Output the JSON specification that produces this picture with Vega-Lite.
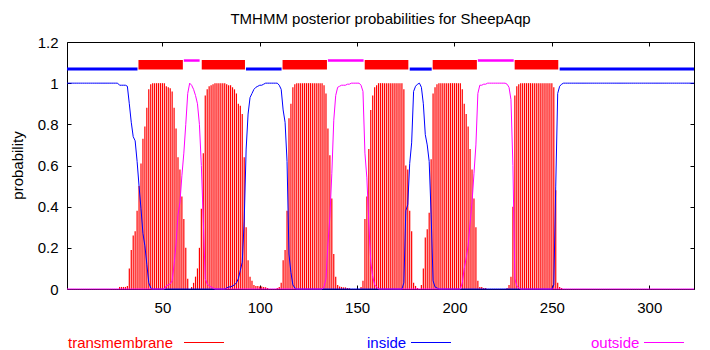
{
"$schema": "https://vega.github.io/schema/vega-lite/v6.json",
"width": 627,
"height": 247,
"autosize": {"type": "none"},
"padding": {"left": 67, "top": 42, "right": 16, "bottom": 61},
"background": "white",
"title": {"text": "TMHMM posterior probabilities for SheepAqp", "font": "Liberation Sans", "fontSize": 15, "fontWeight": "normal", "color": "black", "anchor": "middle", "frame": "group", "baseline": "alphabetic", "offset": -3.5},
"config": {"view": {"stroke": "black", "strokeWidth": 1}},
"datasets": {
"topo": [
{"state":"inside","start":1,"end":37.2},
{"state":"tm","start":37.7,"end":60.5},
{"state":"outside","start":61,"end":69.1},
{"state":"tm","start":70.2,"end":92.4},
{"state":"inside","start":92.9,"end":111.2},
{"state":"tm","start":111.7,"end":134.5},
{"state":"outside","start":135,"end":153.3},
{"state":"tm","start":153.9,"end":176.3},
{"state":"inside","start":177,"end":188.3},
{"state":"tm","start":188.8,"end":211.5},
{"state":"outside","start":212,"end":230.4},
{"state":"tm","start":230.9,"end":253.3},
{"state":"inside","start":254,"end":323}
],
"prob": [
{"pos":1,"tm":0,"inside":1,"outside":0},
{"pos":2,"tm":0,"inside":1,"outside":0},
{"pos":3,"tm":0,"inside":1,"outside":0},
{"pos":4,"tm":0,"inside":1,"outside":0},
{"pos":5,"tm":0,"inside":1,"outside":0},
{"pos":6,"tm":0,"inside":1,"outside":0},
{"pos":7,"tm":0,"inside":1,"outside":0},
{"pos":8,"tm":0,"inside":1,"outside":0},
{"pos":9,"tm":0,"inside":1,"outside":0},
{"pos":10,"tm":0,"inside":1,"outside":0},
{"pos":11,"tm":0,"inside":1,"outside":0},
{"pos":12,"tm":0,"inside":1,"outside":0},
{"pos":13,"tm":0,"inside":1,"outside":0},
{"pos":14,"tm":0,"inside":1,"outside":0},
{"pos":15,"tm":0,"inside":1,"outside":0},
{"pos":16,"tm":0,"inside":1,"outside":0},
{"pos":17,"tm":0,"inside":1,"outside":0},
{"pos":18,"tm":0,"inside":1,"outside":0},
{"pos":19,"tm":0,"inside":1,"outside":0},
{"pos":20,"tm":0,"inside":1,"outside":0},
{"pos":21,"tm":0,"inside":1,"outside":0},
{"pos":22,"tm":0,"inside":1,"outside":0},
{"pos":23,"tm":0,"inside":1,"outside":0},
{"pos":24,"tm":0,"inside":1,"outside":0},
{"pos":25,"tm":0,"inside":1,"outside":0},
{"pos":26,"tm":0,"inside":1,"outside":0},
{"pos":27,"tm":0,"inside":1,"outside":0},
{"pos":28,"tm":0.01,"inside":0.99,"outside":0},
{"pos":29,"tm":0.01,"inside":0.99,"outside":0},
{"pos":30,"tm":0.01,"inside":0.99,"outside":0},
{"pos":31,"tm":0.01,"inside":0.99,"outside":0},
{"pos":32,"tm":0.015,"inside":0.985,"outside":0},
{"pos":33,"tm":0.1,"inside":0.9,"outside":0},
{"pos":34,"tm":0.19,"inside":0.81,"outside":0},
{"pos":35,"tm":0.26,"inside":0.74,"outside":0},
{"pos":36,"tm":0.28,"inside":0.72,"outside":0},
{"pos":37,"tm":0.38,"inside":0.62,"outside":0},
{"pos":38,"tm":0.5,"inside":0.5,"outside":0},
{"pos":39,"tm":0.61,"inside":0.39,"outside":0},
{"pos":40,"tm":0.73,"inside":0.27,"outside":0},
{"pos":41,"tm":0.79,"inside":0.21,"outside":0},
{"pos":42,"tm":0.88,"inside":0.12,"outside":0},
{"pos":43,"tm":0.97,"inside":0.03,"outside":0},
{"pos":44,"tm":0.995,"inside":0.005,"outside":0},
{"pos":45,"tm":1,"inside":0,"outside":0},
{"pos":46,"tm":1,"inside":0,"outside":0},
{"pos":47,"tm":1,"inside":0,"outside":0},
{"pos":48,"tm":1,"inside":0,"outside":0},
{"pos":49,"tm":1,"inside":0,"outside":0},
{"pos":50,"tm":1,"inside":0,"outside":0},
{"pos":51,"tm":1,"inside":0,"outside":0},
{"pos":52,"tm":0.985,"inside":0,"outside":0.015},
{"pos":53,"tm":0.98,"inside":0,"outside":0.02},
{"pos":54,"tm":0.975,"inside":0,"outside":0.025},
{"pos":55,"tm":0.96,"inside":0,"outside":0.04},
{"pos":56,"tm":0.88,"inside":0,"outside":0.12},
{"pos":57,"tm":0.78,"inside":0,"outside":0.22},
{"pos":58,"tm":0.64,"inside":0,"outside":0.36},
{"pos":59,"tm":0.58,"inside":0,"outside":0.42},
{"pos":60,"tm":0.45,"inside":0,"outside":0.55},
{"pos":61,"tm":0.34,"inside":0,"outside":0.66},
{"pos":62,"tm":0.2,"inside":0,"outside":0.8},
{"pos":63,"tm":0.05,"inside":0,"outside":0.95},
{"pos":64,"tm":0,"inside":0,"outside":1},
{"pos":65,"tm":0.01,"inside":0,"outside":0.99},
{"pos":66,"tm":0.03,"inside":0,"outside":0.97},
{"pos":67,"tm":0.06,"inside":0,"outside":0.94},
{"pos":68,"tm":0.1,"inside":0,"outside":0.9},
{"pos":69,"tm":0.2,"inside":0,"outside":0.8},
{"pos":70,"tm":0.39,"inside":0,"outside":0.6},
{"pos":71,"tm":0.66,"inside":0,"outside":0.33},
{"pos":72,"tm":0.94,"inside":0,"outside":0.05},
{"pos":73,"tm":0.97,"inside":0,"outside":0.025},
{"pos":74,"tm":0.985,"inside":0,"outside":0.015},
{"pos":75,"tm":0.99,"inside":0,"outside":0.01},
{"pos":76,"tm":0.995,"inside":0,"outside":0.005},
{"pos":77,"tm":1,"inside":0,"outside":0},
{"pos":78,"tm":1,"inside":0,"outside":0},
{"pos":79,"tm":1,"inside":0,"outside":0},
{"pos":80,"tm":1,"inside":0,"outside":0},
{"pos":81,"tm":1,"inside":0,"outside":0},
{"pos":82,"tm":1,"inside":0,"outside":0},
{"pos":83,"tm":0.995,"inside":0.005,"outside":0},
{"pos":84,"tm":0.99,"inside":0.01,"outside":0},
{"pos":85,"tm":0.99,"inside":0.01,"outside":0},
{"pos":86,"tm":0.98,"inside":0.015,"outside":0},
{"pos":87,"tm":0.97,"inside":0.02,"outside":0},
{"pos":88,"tm":0.95,"inside":0.03,"outside":0},
{"pos":89,"tm":0.9,"inside":0.05,"outside":0},
{"pos":90,"tm":0.89,"inside":0.09,"outside":0},
{"pos":91,"tm":0.85,"inside":0.13,"outside":0},
{"pos":92,"tm":0.64,"inside":0.33,"outside":0},
{"pos":93,"tm":0.3,"inside":0.68,"outside":0},
{"pos":94,"tm":0.14,"inside":0.85,"outside":0},
{"pos":95,"tm":0.06,"inside":0.93,"outside":0},
{"pos":96,"tm":0.04,"inside":0.95,"outside":0},
{"pos":97,"tm":0.02,"inside":0.97,"outside":0},
{"pos":98,"tm":0.015,"inside":0.98,"outside":0},
{"pos":99,"tm":0.015,"inside":0.985,"outside":0},
{"pos":100,"tm":0.012,"inside":0.99,"outside":0},
{"pos":101,"tm":0.012,"inside":0.99,"outside":0},
{"pos":102,"tm":0.01,"inside":0.995,"outside":0},
{"pos":103,"tm":0.008,"inside":1,"outside":0},
{"pos":104,"tm":0.005,"inside":1,"outside":0},
{"pos":105,"tm":0,"inside":1,"outside":0},
{"pos":106,"tm":0,"inside":1,"outside":0},
{"pos":107,"tm":0,"inside":1,"outside":0},
{"pos":108,"tm":0,"inside":1,"outside":0},
{"pos":109,"tm":0.005,"inside":1,"outside":0},
{"pos":110,"tm":0.01,"inside":0.99,"outside":0},
{"pos":111,"tm":0.03,"inside":0.97,"outside":0},
{"pos":112,"tm":0.14,"inside":0.87,"outside":0},
{"pos":113,"tm":0.19,"inside":0.81,"outside":0},
{"pos":114,"tm":0.38,"inside":0.62,"outside":0},
{"pos":115,"tm":0.83,"inside":0.17,"outside":0},
{"pos":116,"tm":0.9,"inside":0.08,"outside":0},
{"pos":117,"tm":0.98,"inside":0.02,"outside":0},
{"pos":118,"tm":0.995,"inside":0.005,"outside":0},
{"pos":119,"tm":1,"inside":0,"outside":0},
{"pos":120,"tm":1,"inside":0,"outside":0},
{"pos":121,"tm":1,"inside":0,"outside":0},
{"pos":122,"tm":1,"inside":0,"outside":0},
{"pos":123,"tm":1,"inside":0,"outside":0},
{"pos":124,"tm":1,"inside":0,"outside":0},
{"pos":125,"tm":1,"inside":0,"outside":0},
{"pos":126,"tm":1,"inside":0,"outside":0},
{"pos":127,"tm":1,"inside":0,"outside":0},
{"pos":128,"tm":1,"inside":0,"outside":0},
{"pos":129,"tm":1,"inside":0,"outside":0},
{"pos":130,"tm":1,"inside":0,"outside":0},
{"pos":131,"tm":1,"inside":0,"outside":0},
{"pos":132,"tm":1,"inside":0,"outside":0},
{"pos":133,"tm":0.99,"inside":0,"outside":0.01},
{"pos":134,"tm":0.95,"inside":0,"outside":0.05},
{"pos":135,"tm":0.78,"inside":0,"outside":0.22},
{"pos":136,"tm":0.65,"inside":0,"outside":0.35},
{"pos":137,"tm":0.44,"inside":0,"outside":0.56},
{"pos":138,"tm":0.17,"inside":0,"outside":0.82},
{"pos":139,"tm":0.06,"inside":0,"outside":0.94},
{"pos":140,"tm":0.02,"inside":0,"outside":0.98},
{"pos":141,"tm":0.012,"inside":0,"outside":0.985},
{"pos":142,"tm":0.01,"inside":0,"outside":0.99},
{"pos":143,"tm":0.008,"inside":0,"outside":0.99},
{"pos":144,"tm":0.008,"inside":0,"outside":0.99},
{"pos":145,"tm":0.005,"inside":0,"outside":0.995},
{"pos":146,"tm":0.004,"inside":0,"outside":0.995},
{"pos":147,"tm":0,"inside":0,"outside":1},
{"pos":148,"tm":0,"inside":0,"outside":1},
{"pos":149,"tm":0,"inside":0,"outside":1},
{"pos":150,"tm":0,"inside":0,"outside":1},
{"pos":151,"tm":0,"inside":0,"outside":1},
{"pos":152,"tm":0.01,"inside":0,"outside":0.99},
{"pos":153,"tm":0.04,"inside":0,"outside":0.96},
{"pos":154,"tm":0.34,"inside":0,"outside":0.66},
{"pos":155,"tm":0.45,"inside":0,"outside":0.54},
{"pos":156,"tm":0.68,"inside":0,"outside":0.32},
{"pos":157,"tm":0.87,"inside":0,"outside":0.13},
{"pos":158,"tm":0.94,"inside":0,"outside":0.06},
{"pos":159,"tm":0.98,"inside":0,"outside":0.02},
{"pos":160,"tm":0.99,"inside":0,"outside":0.01},
{"pos":161,"tm":1,"inside":0,"outside":0},
{"pos":162,"tm":1,"inside":0,"outside":0},
{"pos":163,"tm":1,"inside":0,"outside":0},
{"pos":164,"tm":1,"inside":0,"outside":0},
{"pos":165,"tm":1,"inside":0,"outside":0},
{"pos":166,"tm":1,"inside":0,"outside":0},
{"pos":167,"tm":1,"inside":0,"outside":0},
{"pos":168,"tm":1,"inside":0,"outside":0},
{"pos":169,"tm":1,"inside":0,"outside":0},
{"pos":170,"tm":1,"inside":0,"outside":0},
{"pos":171,"tm":1,"inside":0,"outside":0},
{"pos":172,"tm":1,"inside":0,"outside":0},
{"pos":173,"tm":1,"inside":0,"outside":0},
{"pos":174,"tm":0.97,"inside":0.03,"outside":0},
{"pos":175,"tm":0.6,"inside":0.38,"outside":0},
{"pos":176,"tm":0.58,"inside":0.41,"outside":0},
{"pos":177,"tm":0.38,"inside":0.61,"outside":0},
{"pos":178,"tm":0.28,"inside":0.71,"outside":0},
{"pos":179,"tm":0.03,"inside":0.96,"outside":0},
{"pos":180,"tm":0.015,"inside":0.985,"outside":0},
{"pos":181,"tm":0.005,"inside":0.995,"outside":0},
{"pos":182,"tm":0,"inside":1,"outside":0},
{"pos":183,"tm":0.02,"inside":0.98,"outside":0},
{"pos":184,"tm":0.1,"inside":0.9,"outside":0},
{"pos":185,"tm":0.25,"inside":0.75,"outside":0},
{"pos":186,"tm":0.29,"inside":0.7,"outside":0},
{"pos":187,"tm":0.37,"inside":0.62,"outside":0},
{"pos":188,"tm":0.63,"inside":0.36,"outside":0},
{"pos":189,"tm":0.95,"inside":0.04,"outside":0},
{"pos":190,"tm":0.98,"inside":0.01,"outside":0},
{"pos":191,"tm":0.995,"inside":0.005,"outside":0},
{"pos":192,"tm":1,"inside":0,"outside":0},
{"pos":193,"tm":1,"inside":0,"outside":0},
{"pos":194,"tm":1,"inside":0,"outside":0},
{"pos":195,"tm":1,"inside":0,"outside":0},
{"pos":196,"tm":1,"inside":0,"outside":0},
{"pos":197,"tm":1,"inside":0,"outside":0},
{"pos":198,"tm":1,"inside":0,"outside":0},
{"pos":199,"tm":1,"inside":0,"outside":0},
{"pos":200,"tm":1,"inside":0,"outside":0},
{"pos":201,"tm":1,"inside":0,"outside":0},
{"pos":202,"tm":1,"inside":0,"outside":0},
{"pos":203,"tm":1,"inside":0,"outside":0},
{"pos":204,"tm":0.97,"inside":0,"outside":0.03},
{"pos":205,"tm":0.9,"inside":0,"outside":0.1},
{"pos":206,"tm":0.85,"inside":0,"outside":0.15},
{"pos":207,"tm":0.79,"inside":0,"outside":0.21},
{"pos":208,"tm":0.68,"inside":0,"outside":0.32},
{"pos":209,"tm":0.58,"inside":0,"outside":0.42},
{"pos":210,"tm":0.44,"inside":0,"outside":0.56},
{"pos":211,"tm":0.3,"inside":0,"outside":0.7},
{"pos":212,"tm":0.04,"inside":0,"outside":0.95},
{"pos":213,"tm":0.01,"inside":0,"outside":0.99},
{"pos":214,"tm":0.01,"inside":0,"outside":0.99},
{"pos":215,"tm":0.005,"inside":0,"outside":0.995},
{"pos":216,"tm":0.005,"inside":0,"outside":0.995},
{"pos":217,"tm":0,"inside":0,"outside":1},
{"pos":218,"tm":0,"inside":0,"outside":1},
{"pos":219,"tm":0,"inside":0,"outside":1},
{"pos":220,"tm":0,"inside":0,"outside":1},
{"pos":221,"tm":0,"inside":0,"outside":1},
{"pos":222,"tm":0,"inside":0,"outside":1},
{"pos":223,"tm":0,"inside":0,"outside":1},
{"pos":224,"tm":0,"inside":0,"outside":1},
{"pos":225,"tm":0,"inside":0,"outside":1},
{"pos":226,"tm":0,"inside":0,"outside":1},
{"pos":227,"tm":0.005,"inside":0,"outside":0.995},
{"pos":228,"tm":0.02,"inside":0,"outside":0.98},
{"pos":229,"tm":0.06,"inside":0,"outside":0.92},
{"pos":230,"tm":0.4,"inside":0,"outside":0.6},
{"pos":231,"tm":0.94,"inside":0,"outside":0.05},
{"pos":232,"tm":0.985,"inside":0,"outside":0.015},
{"pos":233,"tm":0.995,"inside":0,"outside":0.005},
{"pos":234,"tm":1,"inside":0,"outside":0},
{"pos":235,"tm":1,"inside":0,"outside":0},
{"pos":236,"tm":1,"inside":0,"outside":0},
{"pos":237,"tm":1,"inside":0,"outside":0},
{"pos":238,"tm":1,"inside":0,"outside":0},
{"pos":239,"tm":1,"inside":0,"outside":0},
{"pos":240,"tm":1,"inside":0,"outside":0},
{"pos":241,"tm":1,"inside":0,"outside":0},
{"pos":242,"tm":1,"inside":0,"outside":0},
{"pos":243,"tm":1,"inside":0,"outside":0},
{"pos":244,"tm":1,"inside":0,"outside":0},
{"pos":245,"tm":1,"inside":0,"outside":0},
{"pos":246,"tm":1,"inside":0,"outside":0},
{"pos":247,"tm":1,"inside":0,"outside":0},
{"pos":248,"tm":1,"inside":0,"outside":0},
{"pos":249,"tm":1,"inside":0,"outside":0},
{"pos":250,"tm":1,"inside":0,"outside":0},
{"pos":251,"tm":0.98,"inside":0.02,"outside":0},
{"pos":252,"tm":0.48,"inside":0.5,"outside":0},
{"pos":253,"tm":0.03,"inside":0.95,"outside":0},
{"pos":254,"tm":0.01,"inside":0.985,"outside":0},
{"pos":255,"tm":0.005,"inside":0.995,"outside":0},
{"pos":256,"tm":0,"inside":1,"outside":0},
{"pos":257,"tm":0,"inside":1,"outside":0},
{"pos":258,"tm":0,"inside":1,"outside":0},
{"pos":259,"tm":0,"inside":1,"outside":0},
{"pos":260,"tm":0,"inside":1,"outside":0},
{"pos":261,"tm":0,"inside":1,"outside":0},
{"pos":262,"tm":0,"inside":1,"outside":0},
{"pos":263,"tm":0,"inside":1,"outside":0},
{"pos":264,"tm":0,"inside":1,"outside":0},
{"pos":265,"tm":0,"inside":1,"outside":0},
{"pos":266,"tm":0,"inside":1,"outside":0},
{"pos":267,"tm":0,"inside":1,"outside":0},
{"pos":268,"tm":0,"inside":1,"outside":0},
{"pos":269,"tm":0,"inside":1,"outside":0},
{"pos":270,"tm":0,"inside":1,"outside":0},
{"pos":271,"tm":0,"inside":1,"outside":0},
{"pos":272,"tm":0,"inside":1,"outside":0},
{"pos":273,"tm":0,"inside":1,"outside":0},
{"pos":274,"tm":0,"inside":1,"outside":0},
{"pos":275,"tm":0,"inside":1,"outside":0},
{"pos":276,"tm":0,"inside":1,"outside":0},
{"pos":277,"tm":0,"inside":1,"outside":0},
{"pos":278,"tm":0,"inside":1,"outside":0},
{"pos":279,"tm":0,"inside":1,"outside":0},
{"pos":280,"tm":0,"inside":1,"outside":0},
{"pos":281,"tm":0,"inside":1,"outside":0},
{"pos":282,"tm":0,"inside":1,"outside":0},
{"pos":283,"tm":0,"inside":1,"outside":0},
{"pos":284,"tm":0,"inside":1,"outside":0},
{"pos":285,"tm":0,"inside":1,"outside":0},
{"pos":286,"tm":0,"inside":1,"outside":0},
{"pos":287,"tm":0,"inside":1,"outside":0},
{"pos":288,"tm":0,"inside":1,"outside":0},
{"pos":289,"tm":0,"inside":1,"outside":0},
{"pos":290,"tm":0,"inside":1,"outside":0},
{"pos":291,"tm":0,"inside":1,"outside":0},
{"pos":292,"tm":0,"inside":1,"outside":0},
{"pos":293,"tm":0,"inside":1,"outside":0},
{"pos":294,"tm":0,"inside":1,"outside":0},
{"pos":295,"tm":0,"inside":1,"outside":0},
{"pos":296,"tm":0,"inside":1,"outside":0},
{"pos":297,"tm":0,"inside":1,"outside":0},
{"pos":298,"tm":0,"inside":1,"outside":0},
{"pos":299,"tm":0,"inside":1,"outside":0},
{"pos":300,"tm":0,"inside":1,"outside":0},
{"pos":301,"tm":0,"inside":1,"outside":0},
{"pos":302,"tm":0,"inside":1,"outside":0},
{"pos":303,"tm":0,"inside":1,"outside":0},
{"pos":304,"tm":0,"inside":1,"outside":0},
{"pos":305,"tm":0,"inside":1,"outside":0},
{"pos":306,"tm":0,"inside":1,"outside":0},
{"pos":307,"tm":0,"inside":1,"outside":0},
{"pos":308,"tm":0,"inside":1,"outside":0},
{"pos":309,"tm":0,"inside":1,"outside":0},
{"pos":310,"tm":0,"inside":1,"outside":0},
{"pos":311,"tm":0,"inside":1,"outside":0},
{"pos":312,"tm":0,"inside":1,"outside":0},
{"pos":313,"tm":0,"inside":1,"outside":0},
{"pos":314,"tm":0,"inside":1,"outside":0},
{"pos":315,"tm":0,"inside":1,"outside":0},
{"pos":316,"tm":0,"inside":1,"outside":0},
{"pos":317,"tm":0,"inside":1,"outside":0},
{"pos":318,"tm":0,"inside":1,"outside":0},
{"pos":319,"tm":0,"inside":1,"outside":0},
{"pos":320,"tm":0,"inside":1,"outside":0},
{"pos":321,"tm":0,"inside":1,"outside":0},
{"pos":322,"tm":0,"inside":1,"outside":0},
{"pos":323,"tm":0,"inside":1,"outside":0}
]
},
"data": {"name": "prob"},
"layer": [
{
"mark": {"type": "rule", "strokeWidth": 1.2},
"encoding": {
"x": {"field": "pos", "type": "quantitative", "scale": {"domain": [1, 323], "nice": false, "zero": false},
 "axis": {"orient": "bottom", "values": [50, 100, 150, 200, 250, 300], "tickSize": -4, "tickColor": "black", "domain": false, "grid": false, "labelFont": "Liberation Sans", "labelFontSize": 15, "labelColor": "black", "labelPadding": 15, "title": null}},
"y": {"field": "tm", "type": "quantitative", "scale": {"domain": [0, 1.2], "nice": false},
 "axis": {"orient": "left", "values": [0, 0.2, 0.4, 0.6, 0.8, 1, 1.2], "format": "~g", "tickSize": -4, "tickColor": "black", "domain": false, "grid": false, "labelFont": "Liberation Sans", "labelFontSize": 15, "labelColor": "black", "labelPadding": 13, "title": "probability", "titleFont": "Liberation Sans", "titleFontSize": 15, "titleFontWeight": "normal", "titleColor": "black", "titleX": -50, "titleY": 123, "titleAngle": -90, "titleAlign": "center", "titleBaseline": "middle"}},
"y2": {"datum": 0},
"color": {"datum": "transmembrane", "type": "nominal", "scale": {"range": ["#ff0000"]},
 "legend": {"orient": "none", "legendX": 1, "legendY": 280, "title": null, "padding": 0, "symbolType": "stroke", "symbolSize": 1600, "symbolStrokeWidth": 1, "labelColor": "#ff0000", "labelFont": "Liberation Sans", "labelFontSize": 15, "labelAlign": "left", "labelOffset": -156.5, "symbolOffset": 115.5}}
}
},
{
"mark": {"type": "line", "strokeWidth": 1},
"encoding": {
"x": {"field": "pos", "type": "quantitative", "axis": {"orient": "top", "values": [50, 100, 150, 200, 250, 300], "tickSize": -4, "tickColor": "black", "domain": false, "grid": false, "labels": false, "title": null}},
"y": {"field": "inside", "type": "quantitative", "axis": {"orient": "right", "values": [0, 0.2, 0.4, 0.6, 0.8, 1, 1.2], "tickSize": -4, "tickColor": "black", "domain": false, "grid": false, "labels": false, "title": null}},
"color": {"datum": "inside", "type": "nominal", "scale": {"range": ["#0000ff"]},
 "legend": {"orient": "none", "legendX": 300, "legendY": 280, "title": null, "padding": 0, "symbolType": "stroke", "symbolSize": 1600, "symbolStrokeWidth": 1, "labelColor": "#0000ff", "labelFont": "Liberation Sans", "labelFontSize": 15, "labelAlign": "left", "labelOffset": -84.5, "symbolOffset": 43.5}}
}
},
{
"mark": {"type": "line", "strokeWidth": 1},
"encoding": {
"x": {"field": "pos", "type": "quantitative", "axis": null},
"y": {"field": "outside", "type": "quantitative", "axis": null},
"color": {"datum": "outside", "type": "nominal", "scale": {"range": ["#ff00ff"]},
 "legend": {"orient": "none", "legendX": 524, "legendY": 280, "title": null, "padding": 0, "symbolType": "stroke", "symbolSize": 1600, "symbolStrokeWidth": 1, "labelColor": "#ff00ff", "labelFont": "Liberation Sans", "labelFontSize": 15, "labelAlign": "left", "labelOffset": -93.5, "symbolOffset": 52.5}}
}
},
{
"data": {"name": "topo"},
"transform": [{"filter": "datum.state === 'inside'"}],
"mark": {"type": "rect", "color": "#0000ff"},
"encoding": {
"x": {"field": "start", "type": "quantitative", "axis": null},
"x2": {"field": "end"},
"y": {"datum": 1.061, "type": "quantitative", "axis": null},
"y2": {"datum": 1.076}
}
},
{
"data": {"name": "topo"},
"transform": [{"filter": "datum.state === 'outside'"}],
"mark": {"type": "rect", "color": "#ff00ff"},
"encoding": {
"x": {"field": "start", "type": "quantitative", "axis": null},
"x2": {"field": "end"},
"y": {"datum": 1.104, "type": "quantitative", "axis": null},
"y2": {"datum": 1.116}
}
},
{
"data": {"name": "topo"},
"transform": [{"filter": "datum.state === 'tm'"}],
"mark": {"type": "rect", "color": "#ff0000"},
"encoding": {
"x": {"field": "start", "type": "quantitative", "axis": null},
"x2": {"field": "end"},
"y": {"datum": 1.066, "type": "quantitative", "axis": null},
"y2": {"datum": 1.113}
}
}
],
"resolve": {"scale": {"color": "independent"}, "legend": {"color": "independent"}, "axis": {"x": "independent", "y": "independent"}}
}
